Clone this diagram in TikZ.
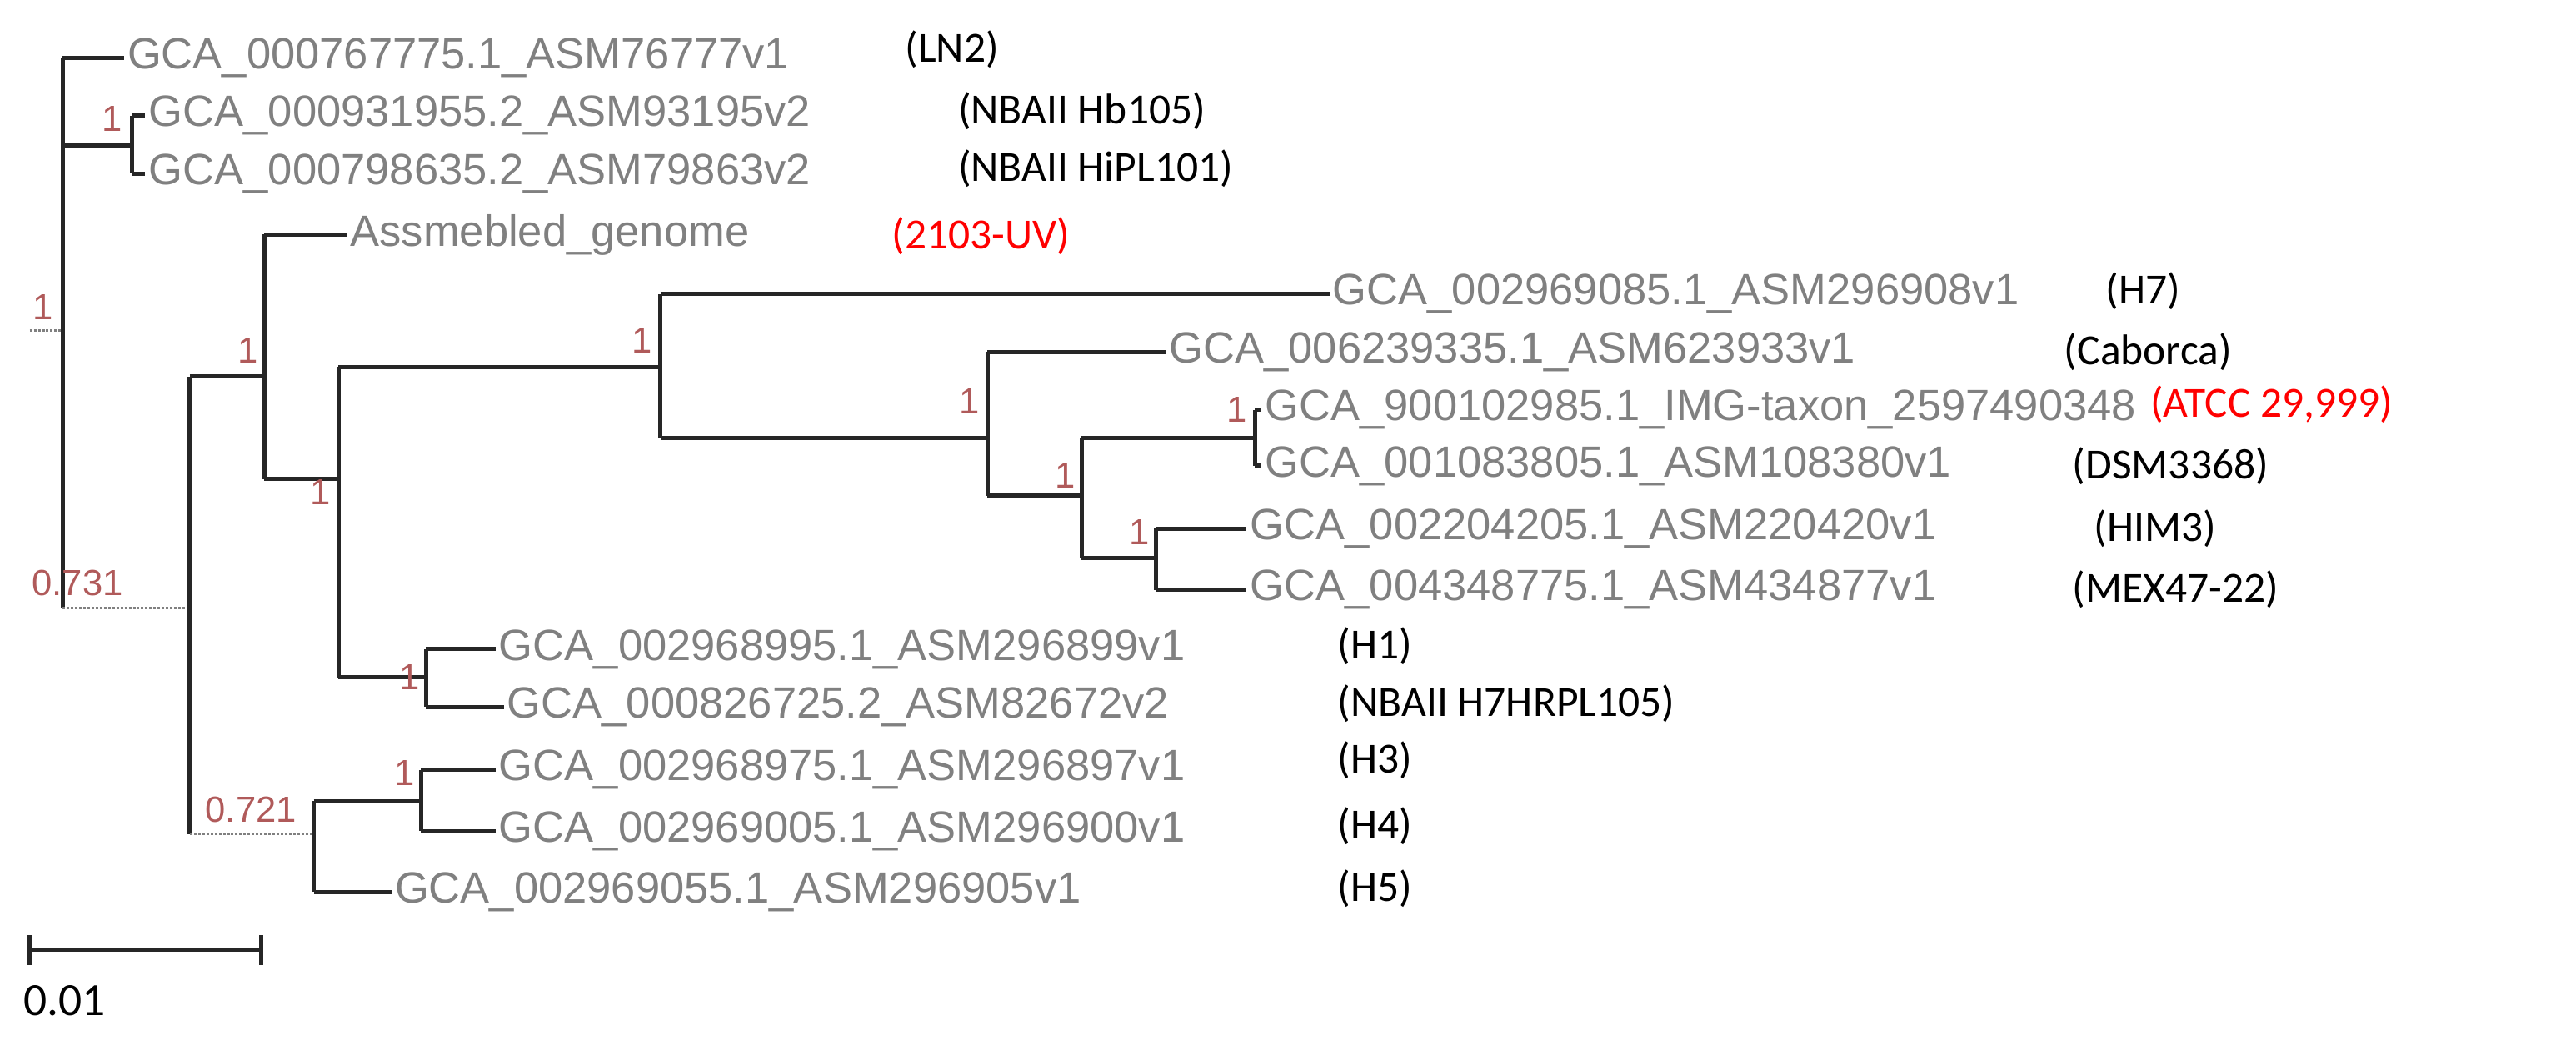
\documentclass[tikz,border=0pt]{standalone}
\usepackage{fontspec}
\setmainfont{Liberation Sans}
\newfontfamily\carl{Carlito}
\definecolor{lg}{HTML}{808080}
\definecolor{sup}{HTML}{B05A5A}
\begin{document}
\begin{tikzpicture}[x=1pt,y=-1pt,
 leaf/.style={anchor=west,inner sep=2pt,text=lg,font=\fontsize{26.5}{30}\selectfont},
 tag/.style={anchor=west,inner sep=0pt,font=\carl\fontsize{26}{30}\selectfont},
 red/.style={tag,text=red},
 sp/.style={text=sup,font=\fontsize{22}{24}\selectfont,inner sep=0pt},
 br/.style={line width=2.5pt,black!85},
 dot/.style={densely dotted,line width=1.5pt,lg}]
\useasboundingbox (0,0) rectangle (1560,630);
% internal nodes
\coordinate (r) at (38,200);
\coordinate (a) at (80,88);
\coordinate (b) at (115,368);
\coordinate (c) at (160,228);
\coordinate (d) at (205,290);
\coordinate (e) at (400,222);
\coordinate (f) at (598,265);
\coordinate (g) at (655,300);
\coordinate (h) at (760,265);
\coordinate (i) at (700,338);
\coordinate (j) at (258,410);
\coordinate (k) at (190,505);
\coordinate (l) at (255,485);
\coordinate (r0) at (18,200);
\coordinate (b0) at (38,368);
\coordinate (k0) at (115,505);
% leaves
\node[leaf] (L1) at (75,35) {GCA\_000767775.1\_ASM76777v1};
\node[leaf] (L2) at (88,70) {GCA\_000931955.2\_ASM93195v2};
\node[leaf] (L3) at (88,105) {GCA\_000798635.2\_ASM79863v2};
\node[leaf] (L4) at (210,142) {Assmebled\_genome};
\node[leaf] (L5) at (805,178) {GCA\_002969085.1\_ASM296908v1};
\node[leaf] (L6) at (706,213) {GCA\_006239335.1\_ASM623933v1};
\node[leaf] (L7) at (764,248) {GCA\_900102985.1\_IMG-taxon\_2597490348};
\node[leaf] (L8) at (764,282) {GCA\_001083805.1\_ASM108380v1};
\node[leaf] (L9) at (755,320) {GCA\_002204205.1\_ASM220420v1};
\node[leaf] (L10) at (755,357) {GCA\_004348775.1\_ASM434877v1};
\node[leaf] (L11) at (300,393) {GCA\_002968995.1\_ASM296899v1};
\node[leaf] (L12) at (305,428) {GCA\_000826725.2\_ASM82672v2};
\node[leaf] (L13) at (300,466) {GCA\_002968975.1\_ASM296897v1};
\node[leaf] (L14) at (300,503) {GCA\_002969005.1\_ASM296900v1};
\node[leaf] (L15) at (237,540) {GCA\_002969055.1\_ASM296905v1};
% tags
\node[tag] (T1) at (548,30) {(LN2)};
\node[tag] (T2) at (580,67) {(NBAII Hb105)};
\node[tag] (T3) at (580,102) {(NBAII HiPL101)};
\node[red] (T4) at (540,143) {(2103-UV)};
\node[tag] (T5) at (1275,176) {(H7)};
\node[tag] (T6) at (1250,213) {(Caborca)};
\node[red] (T7) at (1302,245) {(ATCC 29,999)};
\node[tag] (T8) at (1255,282) {(DSM3368)};
\node[tag] (T9) at (1268,320) {(HIM3)};
\node[tag] (T10) at (1255,357) {(MEX47-22)};
\node[tag] (T11) at (810,391) {(H1)};
\node[tag] (T12) at (810,426) {(NBAII H7HRPL105)};
\node[tag] (T13) at (810,460) {(H3)};
\node[tag] (T14) at (810,500) {(H4)};
\node[tag] (T15) at (810,538) {(H5)};
% branches
\draw[br] (r|-L1.west) -- (r|-b);
\draw[br] (r|-L1.west) -- (L1.west);
\draw[br] (r|-a) -- (a);
\draw[br] (a|-L2.west) -- (a|-L3.west);
\draw[br] (a|-L2.west) -- (L2.west);
\draw[br] (a|-L3.west) -- (L3.west);
\draw[dot] (r0) -- (r);
\draw[dot] (b0) -- (b);
\draw[br] (b|-c) -- (b|-k);
\draw[br] (b|-c) -- (c);
\draw[dot] (k0) -- (k);
\draw[br] (c|-L4.west) -- (c|-d);
\draw[br] (c|-L4.west) -- (L4.west);
\draw[br] (c|-d) -- (d);
\draw[br] (d|-e) -- (d|-j);
\draw[br] (d|-e) -- (e);
\draw[br] (d|-j) -- (j);
\draw[br] (e|-L5.west) -- (e|-f);
\draw[br] (e|-L5.west) -- (L5.west);
\draw[br] (e|-f) -- (f);
\draw[br] (f|-L6.west) -- (f|-g);
\draw[br] (f|-L6.west) -- (L6.west);
\draw[br] (f|-g) -- (g);
\draw[br] (g|-h) -- (g|-i);
\draw[br] (g|-h) -- (h);
\draw[br] (g|-i) -- (i);
\draw[br] (h|-L7.west) -- (h|-L8.west);
\draw[br] (h|-L7.west) -- (L7.west);
\draw[br] (h|-L8.west) -- (L8.west);
\draw[br] (i|-L9.west) -- (i|-L10.west);
\draw[br] (i|-L9.west) -- (L9.west);
\draw[br] (i|-L10.west) -- (L10.west);
\draw[br] (j|-L11.west) -- (j|-L12.west);
\draw[br] (j|-L11.west) -- (L11.west);
\draw[br] (j|-L12.west) -- (L12.west);
\draw[br] (k|-l) -- (k|-L15.west);
\draw[br] (k|-l) -- (l);
\draw[br] (k|-L15.west) -- (L15.west);
\draw[br] (l|-L13.west) -- (l|-L14.west);
\draw[br] (l|-L13.west) -- (L13.west);
\draw[br] (l|-L14.west) -- (L14.west);
% support values
\node[sp] (s1) at (26,186) {1};
\node[sp] (s2) at (68,72) {1};
\node[sp] (s3) at (47,353) {0.731};
\node[sp] (s4) at (150,212) {1};
\node[sp] (s5) at (194,298) {1};
\node[sp] (s6) at (389,206) {1};
\node[sp] (s7) at (587,243) {1};
\node[sp] (s8) at (645,288) {1};
\node[sp] (s9) at (749,248) {1};
\node[sp] (s10) at (690,322) {1};
\node[sp] (s11) at (248,410) {1};
\node[sp] (s12) at (245,468) {1};
\node[sp] (s13) at (152,490) {0.721};
% scale bar
\coordinate (sb1) at (18,575);
\coordinate (sb2) at (158,575);
\draw[br] (sb1) -- (sb2);
\draw[br] ([yshift=-9]sb1) -- ([yshift=9]sb1);
\draw[br] ([yshift=-9]sb2) -- ([yshift=9]sb2);
\node[anchor=west,inner sep=0pt,font=\carl\fontsize{28}{30}\selectfont] (sbl) at (14,606) {0.01};
\end{tikzpicture}
\end{document}
